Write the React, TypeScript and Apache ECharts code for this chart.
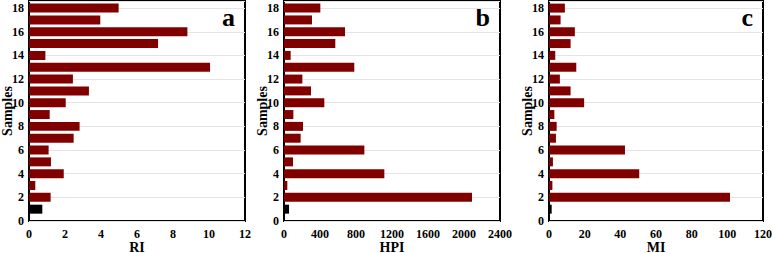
import React, { useEffect, useRef } from "react";
import * as echarts from "echarts";

const samples = [1, 2, 3, 4, 5, 6, 7, 8, 9, 10, 11, 12, 13, 14, 15, 16, 17, 18];
const riValues = [0.74, 1.2, 0.35, 1.93, 1.22, 1.09, 2.48, 2.81, 1.15, 2.04, 3.33, 2.44, 10.06, 0.91, 7.17, 8.8, 3.96, 4.98];
const hpiValues = [56, 2089, 37, 1115, 100, 893, 185, 211, 104, 448, 300, 204, 781, 74, 570, 678, 311, 404];
const miValues = [1.5, 101.5, 1.9, 50.6, 2.2, 42.6, 3.9, 4.3, 3.0, 19.7, 12.1, 6.1, 15.3, 3.5, 12.1, 14.5, 6.5, 8.9];
const panelNames = ["RI", "HPI", "MI"];
const panelLetters = ["a", "b", "c"];
const xMax = [12, 2400, 120];
const xInterval = [2, 400, 20];

const FONT = "'Liberation Serif', 'Times New Roman', serif";

export default function App() {
  const ref = useRef<HTMLDivElement>(null);
  useEffect(() => {
    if (!ref.current) return;
    const chart = echarts.init(ref.current, null, { renderer: "svg" });
    const grids = [
      { left: 29, top: 1, width: 216, height: 220 },
      { left: 284, top: 1, width: 216, height: 220 },
      { left: 549, top: 1, width: 214, height: 220 },
    ];
    const allValues = [riValues, hpiValues, miValues];
    const option: any = {
      animation: false,
      backgroundColor: "#fff",
      grid: grids.map((g) => ({
        ...g,
        containLabel: false,
        outerBoundsMode: "none",
        show: true,
        borderColor: "#000",
        borderWidth: 2,
        backgroundColor: "transparent",
      })),
      xAxis: grids.map((_, i) => ({
        type: "value",
        gridIndex: i,
        min: 0,
        max: xMax[i],
        interval: xInterval[i],
        name: panelNames[i],
        nameLocation: "middle",
        nameGap: 19,
        nameMoveOverlap: false,
        nameTextStyle: { fontFamily: FONT, fontWeight: "bold", fontSize: 14, color: "#000" },
        axisLine: { show: false },
        axisTick: { show: false },
        splitLine: { show: false },
        axisLabel: {
          fontFamily: FONT,
          fontWeight: "bold",
          fontSize: 12,
          color: "#000",
          margin: 7,
          formatter: (v: number) => String(v),
        },
      })),
      yAxis: grids.map((_, i) => ({
        type: "value",
        gridIndex: i,
        min: 0,
        max: 18.6,
        interval: 2,
        name: "Samples",
        nameLocation: "middle",
        nameGap: 16,
        nameMoveOverlap: false,
        nameTextStyle: { fontFamily: FONT, fontWeight: "bold", fontSize: 14, lineHeight: 12, color: "#000" },
        axisLine: { show: false },
        axisTick: { show: false },
        splitLine: { show: true, lineStyle: { color: "#e4e4e4", width: 1 } },
        axisLabel: {
          fontFamily: FONT,
          fontWeight: "bold",
          fontSize: 12,
          color: "#000",
          margin: 5,
          formatter: (v: number) => (Math.abs(v % 2) < 1e-9 ? String(v) : ""),
        },
      })),
      series: allValues.map((vals, i) => ({
        type: "custom",
        xAxisIndex: i,
        yAxisIndex: i,
        encode: { x: 0, y: 1 },
        data: vals.map((v, k) => [v, samples[k]]),
        renderItem: (params: any, api: any) => {
          const x = api.value(0);
          const y = api.value(1);
          const p0 = api.coord([0, y]);
          const p1 = api.coord([x, y]);
          const h = api.size([0, 1])[1] * 0.76;
          return {
            type: "rect",
            shape: { x: p0[0], y: p0[1] - h / 2, width: p1[0] - p0[0], height: h },
            style: { fill: y === 1 ? "#000" : "#800000" },
          };
        },
      })),
      graphic: grids.map((g, i) => ({
        type: "text",
        right: 772 - (g.left + g.width) + 10,
        top: 4,
        style: {
          text: panelLetters[i],
          fontFamily: FONT,
          fontWeight: "bold",
          fontSize: 26,
          fill: "#000",
        },
      })),
    };
    chart.setOption(option);
    return () => chart.dispose();
  }, []);
  return (
    <div
      ref={ref}
      style={{ position: "fixed", left: 0, top: 0, width: 772, height: 253 }}
    />
  );
}
